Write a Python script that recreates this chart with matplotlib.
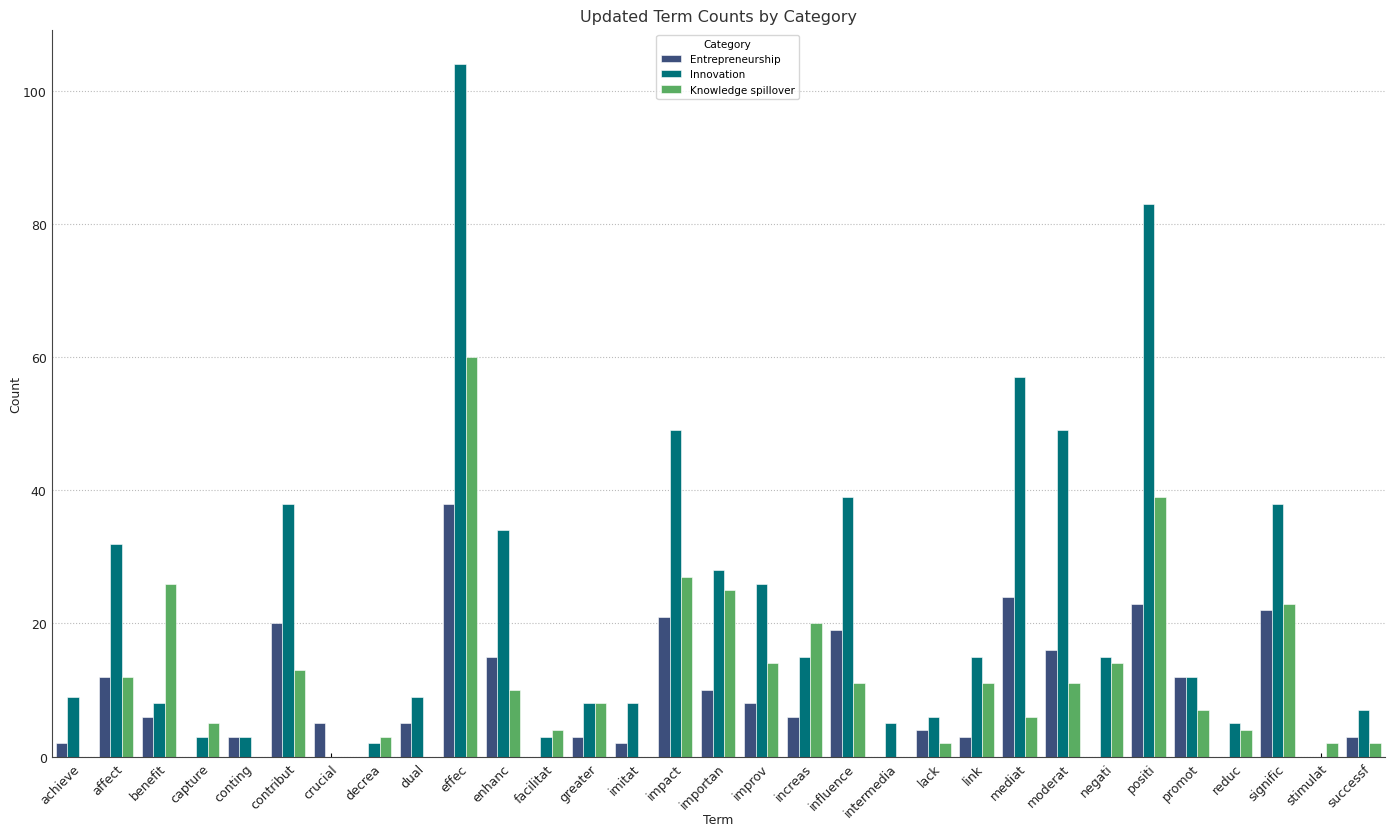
import matplotlib
matplotlib.use("Agg")
import matplotlib.pyplot as plt
import numpy as np

terms = ["achieve", "affect", "benefit", "capture", "conting", "contribut", "crucial",
         "decrea", "dual", "effec", "enhanc", "facilitat", "greater", "imitat", "impact",
         "importan", "improv", "increas", "influence", "intermedia", "lack", "link",
         "mediat", "moderat", "negati", "positi", "promot", "reduc", "signific",
         "stimulat", "successf"]
entrepreneurship = [2, 12, 6, 0, 3, 20, 5, 0, 5, 38, 15, 0, 3, 2, 21, 10, 8, 6, 19, 0,
                    4, 3, 24, 16, 0, 23, 12, 0, 22, 0, 3]
innovation = [9, 32, 8, 3, 3, 38, 0, 2, 9, 104, 34, 3, 8, 8, 49, 28, 26, 15, 39, 5,
              6, 15, 57, 49, 15, 83, 12, 5, 38, 0, 7]
knowledge = [0, 12, 26, 5, 0, 13, 0, 3, 0, 60, 10, 4, 8, 0, 27, 25, 14, 20, 11, 0,
             2, 11, 6, 11, 14, 39, 7, 4, 23, 2, 2]
categories = ["Entrepreneurship", "Innovation", "Knowledge spillover"]
colors = ["#3d4f7c", "#00737a", "#5aad62"]

fig, ax = plt.subplots(figsize=(13.92, 8.28), dpi=100)
x = np.arange(len(terms))
w = 0.8 / 3
for i, (vals, lab, c) in enumerate(zip([entrepreneurship, innovation, knowledge], categories, colors)):
    ax.bar(x + (i - 1) * w, vals, width=w, color=c, label=lab, edgecolor="white", linewidth=0.4)

ax.set_xlim(-0.5, len(terms) - 0.5)
ax.set_ylim(0, 109.2)
ax.set_xticks(x)
ax.set_xticklabels(terms, rotation=45, ha="right", rotation_mode="anchor", fontsize=9,
                   color="#222222")
ax.tick_params(axis="x", direction="in", length=3, pad=4)
ax.tick_params(axis="y", length=0, labelsize=9, labelcolor="#222222")
ax.set_yticks([0, 20, 40, 60, 80, 100])
ax.yaxis.grid(True, linestyle=":", color="#bbbbbb", linewidth=0.8)
ax.set_axisbelow(True)
for s in ["top", "right"]:
    ax.spines[s].set_visible(False)
for s in ["left", "bottom"]:
    ax.spines[s].set_color("#444444")
ax.set_title("Updated Term Counts by Category", fontsize=11.5, color="#333333")
ax.set_xlabel("Term", fontsize=9, color="#222222")
ax.set_ylabel("Count", fontsize=9, color="#222222")
ax.xaxis.set_label_coords(0.5, -0.077)
ax.yaxis.set_label_coords(-0.022, 0.5)
leg = ax.legend(title="Category", loc="upper center", fontsize=7.5, title_fontsize=7.5,
                frameon=True, bbox_to_anchor=(0.507, 1.0))
leg.get_frame().set_edgecolor("#cccccc")

fig.subplots_adjust(left=0.037, right=0.995, top=0.963, bottom=0.085)
fig.savefig("out.png", dpi=100)
